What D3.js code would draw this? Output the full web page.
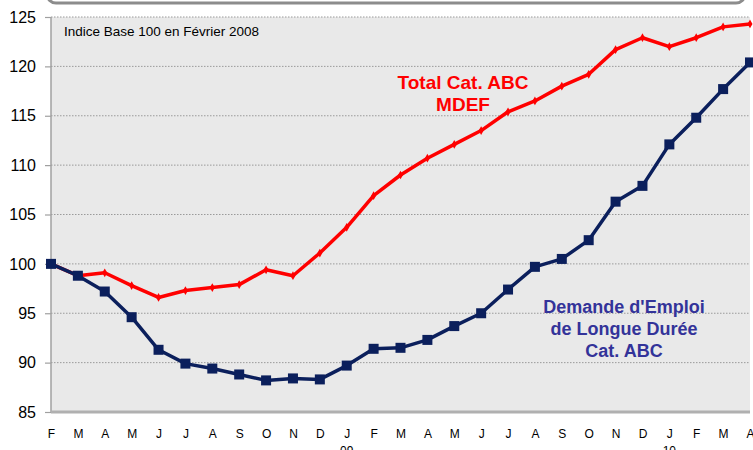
<!DOCTYPE html>
<html><head><meta charset="utf-8">
<script src="https://cdn.jsdelivr.net/npm/d3@7"></script>
<style>body{margin:0;background:#fff;}svg{display:block;font-family:"Liberation Sans",Arial,sans-serif;}</style>
</head><body>
<svg id="c" width="753" height="450"></svg>
<script>
const months = ["F","M","A","M","J","J","A","S","O","N","D","J","F","M","A","M","J","J","A","S","O","N","D","J","F","M","A"];
const yearLabels = [{i:11,t:"09"},{i:23,t:"10"}];
const totalABC = [100,98.8,99.1,97.8,96.6,97.3,97.6,97.9,99.4,98.8,101.1,103.7,106.9,109.0,110.7,112.1,113.5,115.4,116.5,118.0,119.2,121.7,122.9,122.0,122.9,124.0,124.3];
const longueDuree = [100,98.8,97.2,94.6,91.3,89.9,89.4,88.8,88.2,88.4,88.3,89.7,91.4,91.5,92.3,93.7,95.0,97.4,99.7,100.5,102.4,106.3,107.9,112.1,114.8,117.7,120.4];
const yTicks = [85,90,95,100,105,110,115,120,125];

const svg = d3.select("#c");
const L=51, R=750, T=17, B=412;
const x = d3.scaleLinear().domain([0, months.length-1]).range([L,R]);
const y = d3.scaleLinear().domain([85,125]).range([B,T]);

// top rounded frame
svg.append("rect").attr("x",47).attr("y",-40).attr("width",698).attr("height",43)
  .attr("rx",9).attr("fill","none").attr("stroke","#8c8c8c").attr("stroke-width",3);

svg.append("rect").attr("x",L).attr("y",T).attr("width",R-L).attr("height",B-T).attr("fill","#e9e9e9");

// grid
svg.append("g").selectAll("line").data(yTicks.filter(d=>d>85)).join("line")
  .attr("x1",L).attr("x2",R).attr("y1",d=>y(d)).attr("y2",d=>y(d))
  .attr("stroke","#9a9a9a").attr("stroke-width",1).attr("stroke-dasharray","1.5,1.5");

// y axis
const ya = svg.append("g").attr("transform",`translate(${L},0)`).call(d3.axisLeft(y).tickValues(yTicks).tickSize(6).tickPadding(9));
ya.select(".domain").attr("stroke","#a0a0a0").attr("stroke-width",1.5).attr("d",`M-0,${T}V${B}`);
ya.selectAll(".tick line").attr("stroke","#a0a0a0").attr("stroke-width",1.2);
ya.selectAll("text").attr("font-size",16).attr("fill","#000").attr("font-family","Liberation Sans, Arial, sans-serif");

// x axis
const xa = svg.append("g").attr("transform",`translate(0,${B})`)
  .call(d3.axisBottom(x).tickValues(d3.range(months.length)).tickFormat(i=>months[i]).tickSize(0).tickPadding(17));
xa.select(".domain").attr("stroke","#b0b0b0").attr("stroke-width",3).attr("d",`M${L},0H${R}`);
xa.selectAll("text").attr("font-size",12).attr("fill","#000").attr("font-family","Liberation Sans, Arial, sans-serif");
svg.append("g").selectAll("text").data(yearLabels).join("text")
  .attr("x",d=>x(d.i)).attr("y",455).attr("text-anchor","middle").attr("font-size",12).text(d=>d.t);

const line = d3.line().x((d,i)=>x(i)).y(d=>y(d));
// red
svg.append("path").datum(totalABC).attr("d",line).attr("fill","none").attr("stroke","#ff0000").attr("stroke-width",3.5).attr("stroke-linejoin","round");
svg.append("g").selectAll("path").data(totalABC).join("path")
  .attr("d",d3.symbol(d3.symbolDiamond,22)).attr("transform",(d,i)=>`translate(${x(i)},${y(d)})`).attr("fill","#ff0000");
// blue
svg.append("path").datum(longueDuree).attr("d",line).attr("fill","none").attr("stroke","#0b1f5c").attr("stroke-width",3.5).attr("stroke-linejoin","round");
svg.append("g").selectAll("rect").data(longueDuree).join("rect")
  .attr("x",(d,i)=>x(i)-5).attr("y",d=>y(d)-5).attr("width",10).attr("height",10).attr("fill","#0b1f5c");

// annotations
svg.append("text").attr("x",64).attr("y",36).attr("font-size",13.5).attr("fill","#000").text("Indice Base 100 en Février 2008");
const rl = svg.append("text").attr("text-anchor","middle").attr("font-weight","bold").attr("font-size",19).attr("fill","#ff0000");
rl.append("tspan").attr("x",463).attr("y",89).text("Total Cat. ABC");
rl.append("tspan").attr("x",463).attr("y",111).text("MDEF");
const bl = svg.append("text").attr("text-anchor","middle").attr("font-weight","bold").attr("font-size",18).attr("fill","#333399");
bl.append("tspan").attr("x",624).attr("y",313).text("Demande d'Emploi");
bl.append("tspan").attr("x",624).attr("y",335).text("de Longue Durée");
bl.append("tspan").attr("x",624).attr("y",357).text("Cat. ABC");
</script>
</body></html>
